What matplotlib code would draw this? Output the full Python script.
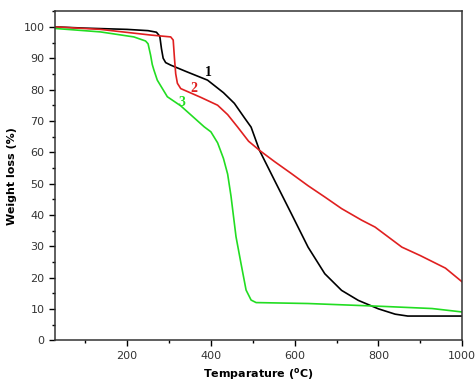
import matplotlib
matplotlib.use("Agg")
import matplotlib.pyplot as plt
from matplotlib.ticker import MultipleLocator

# TGA curves
temp_1 = [28, 100, 200, 250, 270, 278, 282, 286, 292, 304, 340, 392, 430,
          456, 480, 496, 516, 552, 592, 632, 672, 712, 752, 800, 840, 870,
          1000]
weight_1 = [100, 99.6, 99.2, 98.8, 98.3, 97, 93, 90, 88.6, 87.8, 85.8, 83,
            79, 75.6, 71, 68, 60.6, 51, 40.4, 29.7, 21.2, 15.9, 12.7, 10,
            8.3, 7.7, 7.7]

temp_2 = [28, 136, 256, 304, 310, 313, 316, 320, 328, 376, 416, 440, 464,
          490, 516, 552, 592, 632, 672, 712, 760, 792, 856, 900, 960, 1000]
weight_2 = [100, 99.2, 97.4, 96.8, 95.8, 90, 85, 82, 80.3, 77.5, 75, 72, 68,
            63.5, 60.6, 57, 53.2, 49.3, 45.7, 42, 38.3, 36.1, 29.7, 27, 23,
            18.6]

temp_3 = [28, 136, 216, 244, 250, 256, 260, 264, 272, 296, 328, 384, 400,
          416, 430, 440, 448, 460, 472, 484, 496, 508, 632, 808, 928, 1000]
weight_3 = [99.5, 98.4, 96.8, 95.5, 94.6, 91, 88, 86.2, 83, 77.7, 74.8, 68.1,
            66.5, 63, 58, 53, 46, 33, 24.4, 16, 12.8, 12, 11.7, 10.8, 10.1, 9]

labels = ["1", "2", "3"]
label_pos = [(395, 85.6), (359, 80.4), (330, 75.9)]
colors = ["black", "#e02020", "#22dd22"]

fig = plt.figure(figsize=(4.75, 3.87), dpi=100)
ax = fig.add_axes([0.116, 0.121, 0.857, 0.850])

series = [(temp_1, weight_1), (temp_2, weight_2), (temp_3, weight_3)]
for (t, w), c in zip(series, colors):
    ax.plot(t, w, color=c, linewidth=1.2)

# curve numbers
for lab, (x, y), c in zip(labels, label_pos, colors):
    ax.text(x, y, lab, color=c, fontsize=10, fontweight="bold",
            family="Liberation Serif", ha="center", va="center")

ax.set_xlim(28, 1000)
ax.set_ylim(0, 105)
ax.xaxis.set_major_locator(MultipleLocator(200))
ax.xaxis.set_minor_locator(MultipleLocator(100))
ax.yaxis.set_major_locator(MultipleLocator(10))
ax.yaxis.set_minor_locator(MultipleLocator(5))
ax.tick_params(which="major", direction="out", length=4, width=1,
               labelsize=8, labelcolor="#333333")
ax.tick_params(which="minor", direction="out", length=2.5, width=1)
for sp in ax.spines.values():
    sp.set_linewidth(1.1)
    sp.set_color("#333333")

ax.set_xlabel(r"Temparature ($^{\mathbf{o}}$C)", fontsize=8,
              fontweight="bold", labelpad=4)
ax.set_ylabel("Weight loss (%)", fontsize=8, fontweight="bold",
              labelpad=5)

fig.savefig("out.png", dpi=100)
plt.close(fig)
